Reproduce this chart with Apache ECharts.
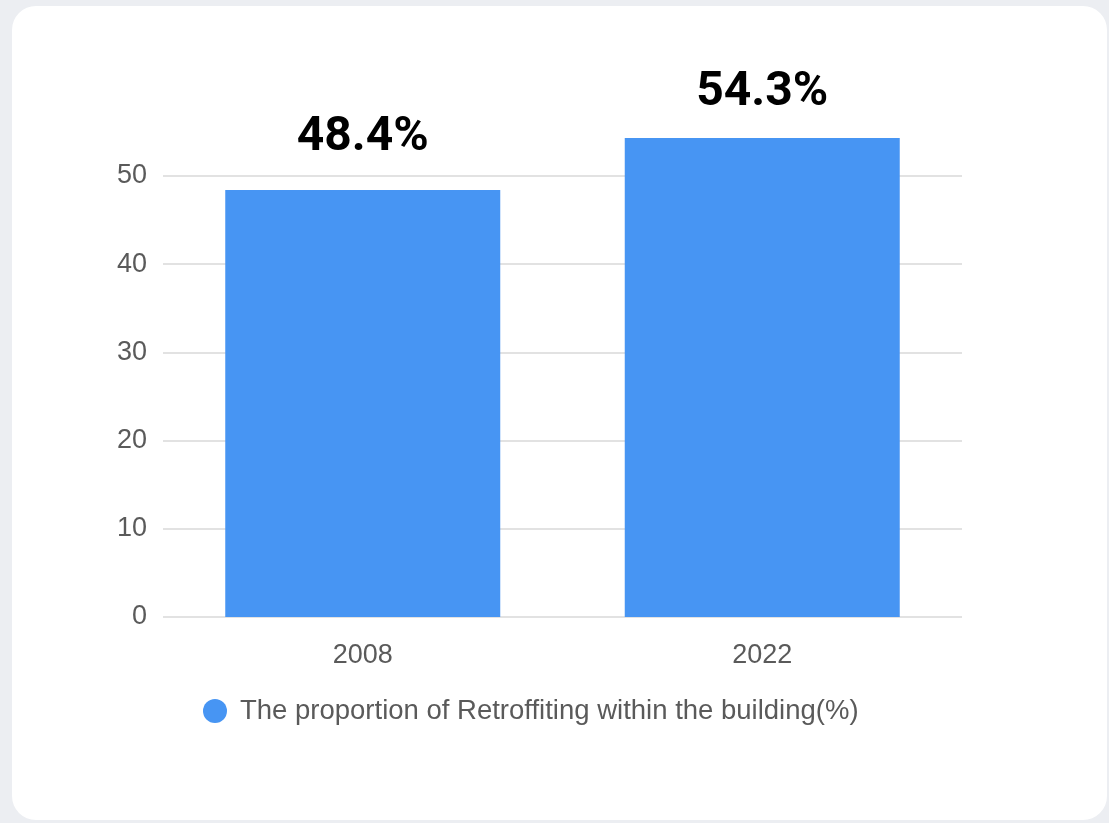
<!DOCTYPE html>
<html>
<head>
<meta charset="utf-8">
<script src="https://cdn.jsdelivr.net/npm/echarts@6/dist/echarts.min.js"></script>
<style>
  html, body { margin: 0; padding: 0; width: 1109px; height: 823px; background: #eceef2; overflow: hidden; }
  #card { position: absolute; left: 12px; top: 6px; width: 1095px; height: 814px; background: #ffffff; border-radius: 24px; }
  #chart { position: absolute; left: 0; top: 0; width: 1109px; height: 823px; }
</style>
</head>
<body>
<div id="card"></div>
<div id="chart"></div>
<script>
const categories = ['2008', '2022'];
const seriesName = 'The proportion of Retroffiting within the building(%)';
const values = [48.4, 54.3];
const yTicks = [0, 10, 20, 30, 40, 50];

const chart = echarts.init(document.getElementById('chart'), null, { renderer: 'canvas' });
const labelGaps = [28, 21];
chart.setOption({
  backgroundColor: 'transparent',
  animation: false,
  grid: { left: 163, right: 147, top: 176, bottom: 206 },
  legend: {
    data: [seriesName],
    left: 198,
    top: 692,
    icon: 'circle',
    itemWidth: 24,
    itemHeight: 24,
    textStyle: { fontFamily: 'Liberation Sans, Arial, sans-serif', fontSize: 27.5, color: '#5a5a5a', padding: [0, 0, 0, 8] }
  },
  xAxis: {
    type: 'category',
    data: categories,
    axisLine: { show: false },
    axisTick: { show: false },
    axisLabel: { fontFamily: 'Liberation Sans, Arial, sans-serif', fontSize: 27, color: '#5a5a5a', margin: 25 }
  },
  yAxis: {
    type: 'value',
    min: yTicks[0],
    max: yTicks[yTicks.length - 1],
    interval: 10,
    axisLine: { show: false },
    axisTick: { show: false },
    axisLabel: { fontFamily: 'Liberation Sans, Arial, sans-serif', fontSize: 27, color: '#5a5a5a', margin: 16, padding: [8, 0, 0, 0] },
    splitLine: { lineStyle: { color: '#e2e2e2', width: 2 } }
  },
  series: [{
    name: seriesName,
    type: 'bar',
    clip: false,
    barWidth: 275,
    itemStyle: { color: '#4795f3' },
    data: values.map((v, i) => ({ value: v, label: { distance: labelGaps[i] } })),
    label: {
      show: true,
      position: 'top',
      formatter: '{c}%',
      fontFamily: 'Roboto, sans-serif',
      fontWeight: 'bold',
      fontSize: 48,
      color: '#000000'
    }
  }]
});
</script>
</body>
</html>
